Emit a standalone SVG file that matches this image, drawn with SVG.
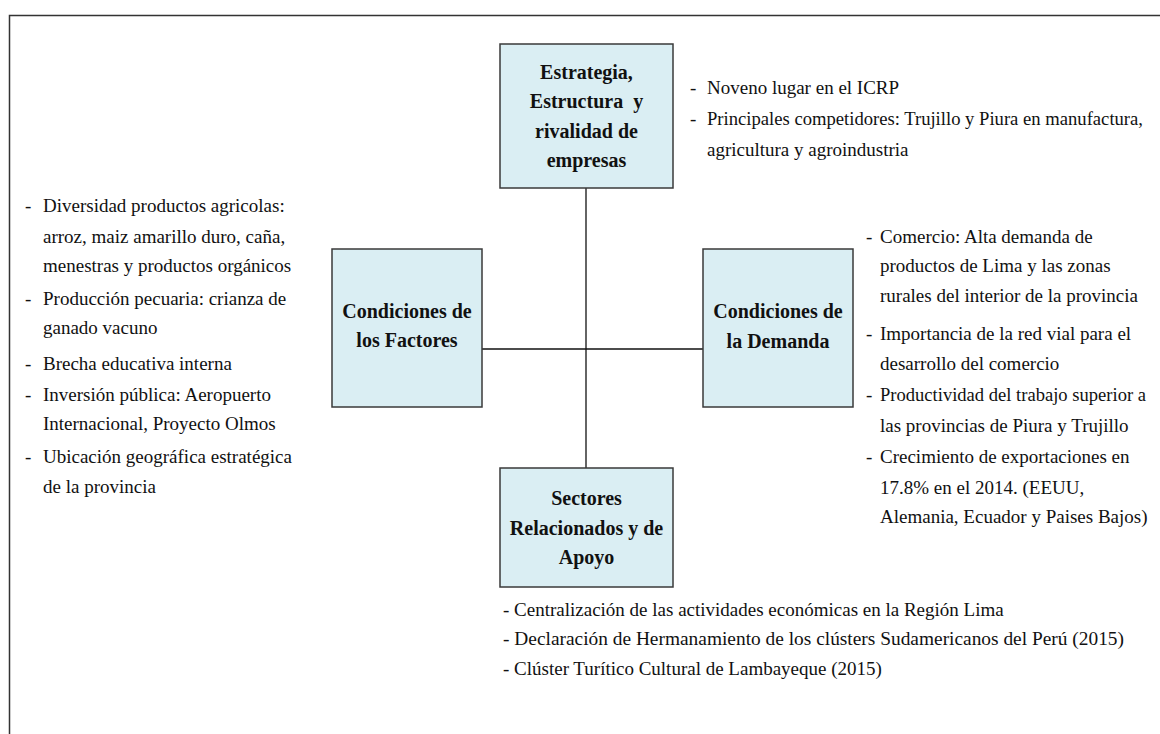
<svg xmlns="http://www.w3.org/2000/svg" width="1160" height="734" viewBox="0 0 1160 734">
<style>
.box{fill:#DAEEF3;stroke:#3a3a3a;stroke-width:1.5}
.bt{font-family:"Liberation Serif","Times New Roman",serif;font-weight:bold;font-size:20px;fill:#111;text-anchor:middle}
.lt{font-family:"Liberation Serif","Times New Roman",serif;font-size:19px;fill:#111}
.ln{stroke:#111;stroke-width:1.3;fill:none}
</style>
<rect width="1160" height="734" fill="#fff"/>
<path d="M9.5 734 V15.5 H1160" stroke="#333" stroke-width="1.5" fill="none"/>
<g id="connectors">
<line class="ln" x1="586" y1="188" x2="586" y2="468"/>
<line class="ln" x1="482" y1="349" x2="703" y2="349"/>
</g>
<g id="node-estrategia">
<rect class="box" x="500" y="44" width="173" height="144"/>
<text class="bt" x="586.5" y="79">Estrategia,</text>
<text class="bt" x="586.5" y="108">Estructura&#160; y</text>
<text class="bt" x="586.5" y="138">rivalidad de</text>
<text class="bt" x="586.5" y="167">empresas</text>
</g>
<g id="node-factores">
<rect class="box" x="332" y="249" width="150" height="158"/>
<text class="bt" x="407" y="318">Condiciones de</text>
<text class="bt" x="407" y="347">los Factores</text>
</g>
<g id="node-demanda">
<rect class="box" x="703" y="249" width="150" height="158"/>
<text class="bt" x="778" y="318">Condiciones de</text>
<text class="bt" x="778" y="348">la Demanda</text>
</g>
<g id="node-sectores">
<rect class="box" x="500" y="468" width="173" height="119"/>
<text class="bt" x="586.5" y="505">Sectores</text>
<text class="bt" x="586.5" y="535">Relacionados y de</text>
<text class="bt" x="586.5" y="564">Apoyo</text>
</g>
<g id="list-estrategia" class="lt">
<text x="690" y="94">-</text><text x="707" y="94">Noveno lugar en el ICRP</text>
<text x="690" y="125">-</text><text x="707" y="125" textLength="436" lengthAdjust="spacingAndGlyphs">Principales competidores: Trujillo y Piura en manufactura,</text>
<text x="707" y="156">agricultura y agroindustria</text>
</g>
<g id="list-factores" class="lt">
<text x="25" y="212">-</text><text x="43" y="212">Diversidad productos agricolas:</text>
<text x="43" y="243">arroz, maiz amarillo duro, caña,</text>
<text x="43" y="272">menestras y productos orgánicos</text>
<text x="25" y="305">-</text><text x="43" y="305">Producción pecuaria: crianza de</text>
<text x="43" y="334">ganado vacuno</text>
<text x="25" y="370">-</text><text x="43" y="370">Brecha educativa interna</text>
<text x="25" y="401">-</text><text x="43" y="401">Inversión pública: Aeropuerto</text>
<text x="43" y="430">Internacional, Proyecto Olmos</text>
<text x="25" y="463">-</text><text x="43" y="463">Ubicación geográfica estratégica</text>
<text x="43" y="493">de la provincia</text>
</g>
<g id="list-demanda" class="lt">
<text x="866" y="243">-</text><text x="880" y="243">Comercio: Alta demanda de</text>
<text x="880" y="272">productos de Lima y las zonas</text>
<text x="880" y="302">rurales del interior de la provincia</text>
<text x="866" y="340">-</text><text x="880" y="340">Importancia de la red vial para el</text>
<text x="880" y="370">desarrollo del comercio</text>
<text x="866" y="401">-</text><text x="880" y="401" textLength="266" lengthAdjust="spacingAndGlyphs">Productividad del trabajo superior a</text>
<text x="880" y="432">las provincias de Piura y Trujillo</text>
<text x="866" y="463">-</text><text x="880" y="463">Crecimiento de exportaciones en</text>
<text x="880" y="494">17.8% en el 2014. (EEUU,</text>
<text x="880" y="523">Alemania, Ecuador y Paises Bajos)</text>
</g>
<g id="list-sectores" class="lt">
<text x="503" y="616">- Centralización de las actividades económicas en la Región Lima</text>
<text x="503" y="645" textLength="621" lengthAdjust="spacingAndGlyphs">- Declaración de Hermanamiento de los clústers Sudamericanos del Perú (2015)</text>
<text x="503" y="675">- Clúster Turítico Cultural de Lambayeque (2015)</text>
</g>
</svg>
